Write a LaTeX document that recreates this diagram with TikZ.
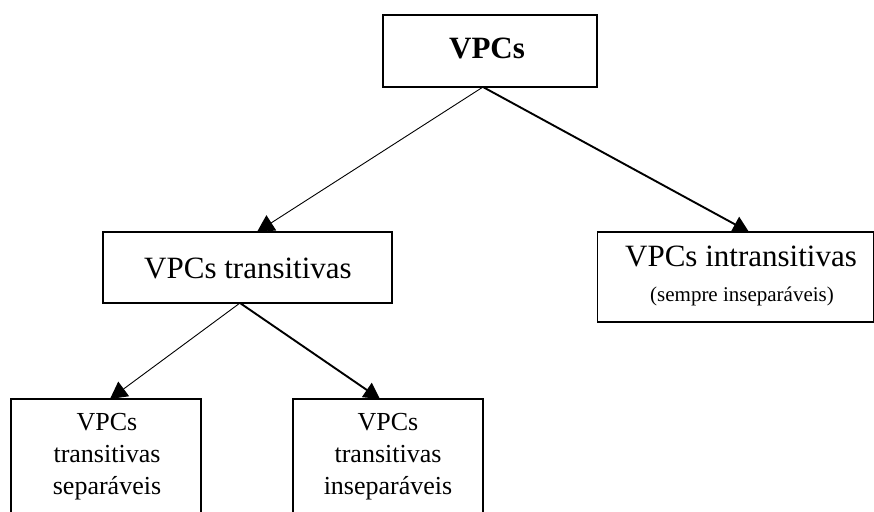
\documentclass[tikz,border=0pt]{standalone}
\usepackage{fontspec}
\setmainfont{Liberation Serif}
\usetikzlibrary{arrows.meta,calc}
\tikzset{
  box/.style={draw=black, line width=1.8pt, rectangle, inner sep=0pt, outer sep=0pt},
  lbl/.style={inner sep=0pt, outer sep=0pt, align=center},
  thinarr/.style={line width=0.9pt, -{Triangle[length=17pt,width=18pt]}},
  thickarr/.style={line width=1.9pt, -{Triangle[length=16pt,width=17pt]}},
}
\begin{document}
\begin{tikzpicture}[x=1pt,y=-1pt]
\useasboundingbox (0,0) rectangle (874,511);
\clip (0,0) rectangle (874,511);
% boxes
\node[box, minimum width=214pt, minimum height=72pt] (top) at (490,51) {};
\node[lbl, font=\fontsize{31}{37}\selectfont\bfseries] (topt) at (487,48) {VPCs};
\node[box, minimum width=289pt, minimum height=71pt] (trans) at (247.5,267.5) {};
\node[lbl, font=\fontsize{31}{37}\selectfont] (transt) at (248,268) {VPCs transitivas};
\node[box, minimum width=276pt, minimum height=90pt] (intr) at (735.5,277) {};
\node[lbl, font=\fontsize{31}{37}\selectfont] (intra) at (741,256) {VPCs intransitivas};
\node[lbl, font=\fontsize{21}{25}\selectfont] (intrb) at (742,296) {(sempre inseparáveis)};
\node[box, minimum width=190pt, minimum height=114pt] (sep) at (106,456) {};
\node[lbl, font=\fontsize{26}{32}\selectfont] (sept) at (107,457) {VPCs\\transitivas\\separáveis};
\node[box, minimum width=190pt, minimum height=114pt] (insep) at (388,456) {};
\node[lbl, font=\fontsize{26}{32}\selectfont] (insept) at (388,457) {VPCs\\transitivas\\inseparáveis};
% connectors
\coordinate (a1) at ($(top.south)+(-7,0)$);
\coordinate (a2) at ($(trans.south)+(-7.5,0)$);
\draw[thinarr] (a1) -- ($(trans.north)+(9.5,0)$);
\draw[thickarr] (a1) -- ($(intr.north)+(13.5,0)$);
\draw[thinarr] (a2) -- ($(sep.north)+(4,0)$);
\draw[thickarr] (a2) -- ($(insep.north)+(-8,0)$);
\end{tikzpicture}
\end{document}
